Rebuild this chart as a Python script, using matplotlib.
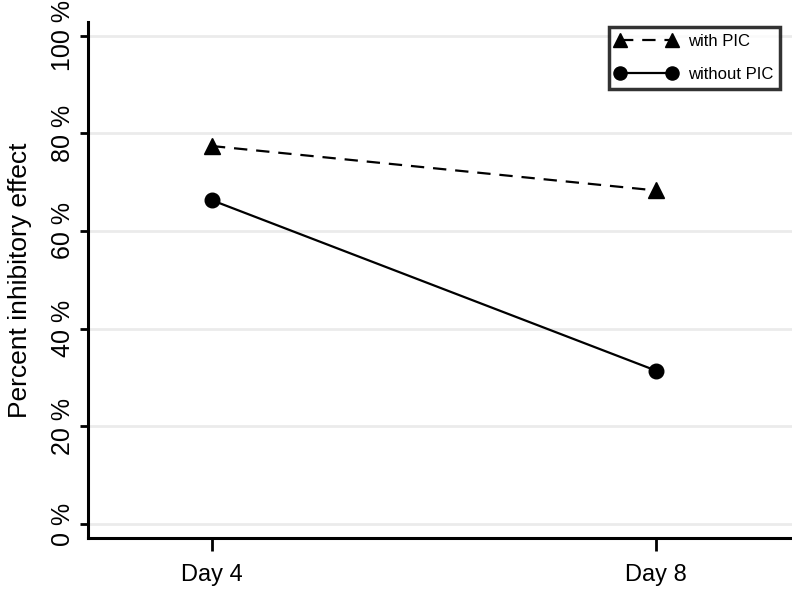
import matplotlib
matplotlib.use("Agg")
import matplotlib.pyplot as plt

days = ["Day 4", "Day 8"]
with_pic = [77.4, 68.3]
without_pic = [66.3, 31.4]
yticks = [0, 20, 40, 60, 80, 100]
ytick_labels = ["0 %", "20 %", "40 %", "60 %", "80 %", "100 %"]

plt.rcParams['font.family'] = ['Liberation Sans', 'DejaVu Sans']

fig = plt.figure(figsize=(7.92, 5.89), dpi=100)
ax = fig.add_axes([88/792, 51/589, 1 - 88/792, (538-22)/589])

x = list(range(len(days)))
ax.plot(x, with_pic, color='black', lw=1.6, ls=(0, (6, 4)), marker='^', ms=11,
        label='with PIC', zorder=3)
ax.plot(x, without_pic, color='black', lw=1.6, ls='-', marker='o', ms=10.5,
        label='without PIC', zorder=3)

ax.set_xlim(-0.279, 1.306)
ax.set_ylim(-2.87, 102.8)
ax.set_xticks(x)
ax.set_xticklabels(days, fontsize=17)
ax.set_yticks(yticks)
ax.set_yticklabels(ytick_labels, fontsize=18, rotation=90, va='center')
for yv in yticks:
    ax.axhline(yv, color='#ebebeb', lw=2, zorder=1)

for s in ['top', 'right']:
    ax.spines[s].set_visible(False)
for s in ['left', 'bottom']:
    ax.spines[s].set_linewidth(2.2)
ax.tick_params(axis='both', direction='out', width=2, colors='black')
ax.tick_params(axis='x', length=9, pad=10)
ax.tick_params(axis='y', length=6, pad=3)
ax.set_ylabel('Percent inhibitory effect', fontsize=19, labelpad=14)

leg = ax.legend(loc='upper right', bbox_to_anchor=(780/792, (589-27)/589),
                bbox_transform=fig.transFigure, numpoints=2, handlelength=3.7,
                fontsize=12, frameon=True, fancybox=False, borderpad=0.4,
                labelspacing=1.1, handletextpad=0.65, borderaxespad=0,
                markerscale=0.9)
leg.get_frame().set_edgecolor('black')
leg.get_frame().set_linewidth(2.5)

fig.savefig('out.png', dpi=100)
